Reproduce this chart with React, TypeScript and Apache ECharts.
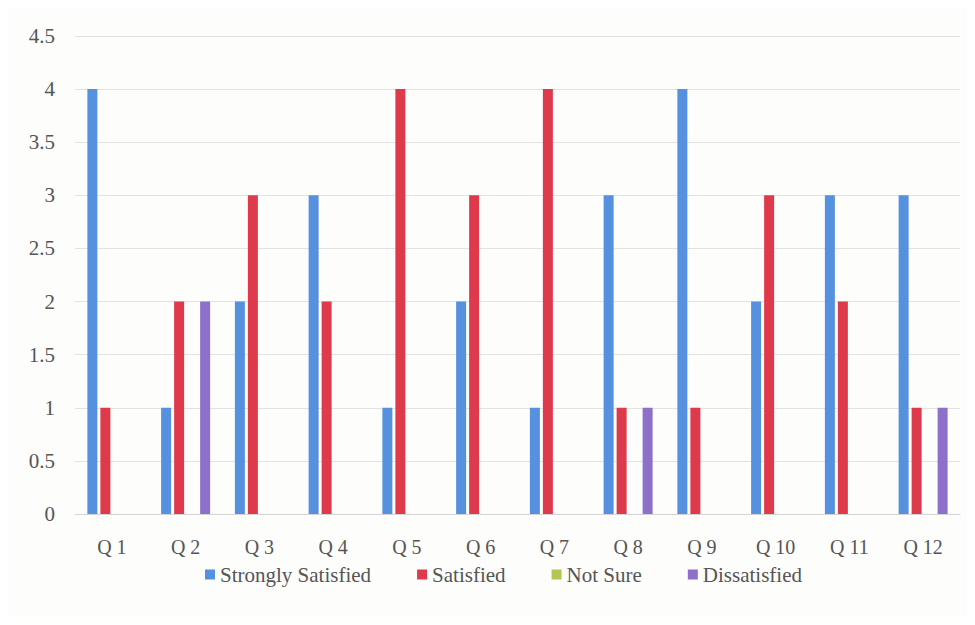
import React, { useEffect, useRef } from "react";
import * as echarts from "echarts";

const categories = ["Q 1", "Q 2", "Q 3", "Q 4", "Q 5", "Q 6", "Q 7", "Q 8", "Q 9", "Q 10", "Q 11", "Q 12"];
const stronglySatisfied = [4, 1, 2, 3, 1, 2, 1, 3, 4, 2, 3, 3];
const satisfied = [1, 2, 3, 2, 4, 3, 4, 1, 1, 3, 2, 1];
const notSure = [0, 0, 0, 0, 0, 0, 0, 0, 0, 0, 0, 0];
const dissatisfied = [0, 2, 0, 0, 0, 0, 0, 1, 0, 0, 0, 1];
const seriesNames = ["Strongly Satisfied", "Satisfied", "Not Sure", "Dissatisfied"];

const FONT = "Liberation Serif";

export default function App() {
  const ref = useRef<HTMLDivElement>(null);
  useEffect(() => {
    const chart = echarts.init(ref.current!, null, { renderer: "svg" });
    const mk = (name: string, data: number[], color: string) => ({
      name,
      type: "bar",
      data,
      barWidth: 10,
      barGap: "30%",
      itemStyle: { color },
    });
    chart.setOption({
      animation: false,
      backgroundColor: "#fdfdfc",
      textStyle: { fontFamily: FONT },
      grid: { left: 67, right: 7, top: 28, bottom: 103, containLabel: false },
      xAxis: {
        type: "category",
        data: categories,
        axisLine: { show: true, lineStyle: { color: "#d4d4d4" } },
        axisTick: { show: false },
        axisLabel: { color: "#555555", fontSize: 20, lineHeight: 18, fontFamily: FONT, margin: 24 },
      },
      yAxis: {
        type: "value",
        min: 0,
        max: 4.5,
        interval: 0.5,
        axisLine: { show: false },
        axisTick: { show: false },
        axisLabel: { color: "#555555", fontSize: 21, fontFamily: FONT, margin: 20 },
        splitLine: { lineStyle: { color: "#e2e2e2" } },
      },
      legend: {
        top: 551,
        left: 192,
        itemWidth: 10,
        itemHeight: 10,
        itemGap: 46,
        icon: "rect",
        textStyle: { color: "#555555", fontSize: 21, lineHeight: 18, fontFamily: FONT },
        data: seriesNames,
      },
      series: [
        mk(seriesNames[0], stronglySatisfied, "#5591de"),
        mk(seriesNames[1], satisfied, "#de3a4c"),
        mk(seriesNames[2], notSure, "#b4c552"),
        mk(seriesNames[3], dissatisfied, "#8d70c9"),
      ],
    });
    return () => chart.dispose();
  }, []);
  return <div ref={ref} style={{ width: 959, height: 609 }} />;
}
